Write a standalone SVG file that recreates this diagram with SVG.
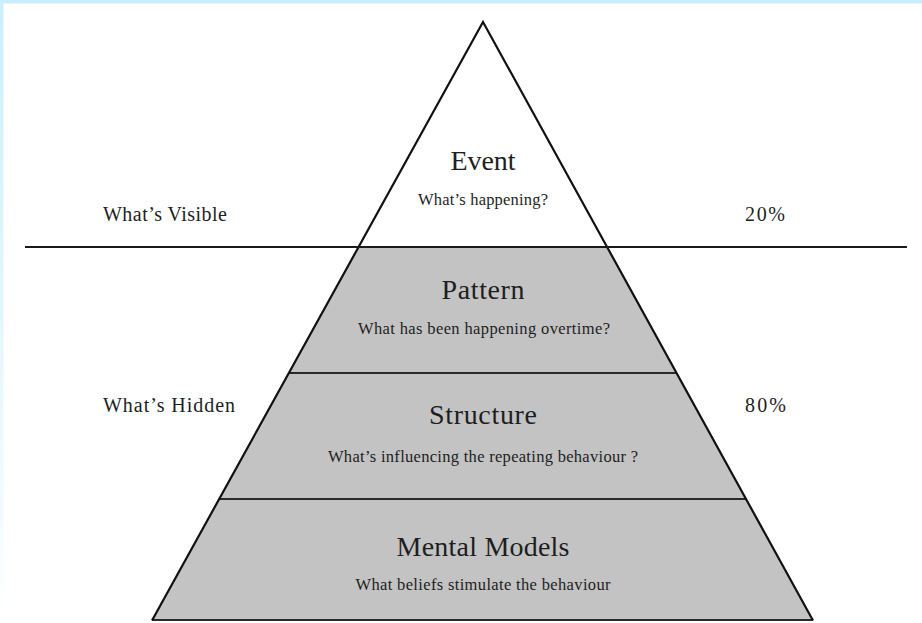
<svg xmlns="http://www.w3.org/2000/svg" width="922" height="623" viewBox="0 0 922 623">
<defs>
<linearGradient id="lb" x1="0" y1="0" x2="0" y2="1"><stop offset="0" stop-color="#cdeffb"/><stop offset="0.75" stop-color="#eefaff"/><stop offset="1" stop-color="#ffffff"/></linearGradient>
<style>
.t{font-family:"Liberation Serif","Times New Roman",serif;fill:#1e1e1e;text-anchor:middle}
.title{font-size:28px}
.sub{font-size:16.5px}
.side{font-family:"Liberation Serif","Times New Roman",serif;fill:#1e1e1e;font-size:20px}
.layer{fill:#c3c3c3;stroke:none}
.div{stroke:#2a2a2a;stroke-width:2;fill:none}
.edge{stroke:#111;stroke-width:2.2;fill:none;stroke-linejoin:miter}
</style>
</defs>
<rect width="922" height="623" fill="#ffffff"/>
<rect x="0" y="0" width="922" height="3.5" fill="#c9eefb"/>
<rect x="0" y="0" width="3.5" height="623" fill="url(#lb)"/>

<g id="layer-pattern">
<polygon class="layer" points="358.5,247 607.2,247 676.7,373 288.7,373"/>
<text class="t title" x="483" y="299" textLength="83" lengthAdjust="spacing">Pattern</text>
<text class="t sub" x="484" y="334" textLength="252" lengthAdjust="spacing">What has been happening overtime?</text>
</g>
<g id="layer-structure">
<polygon class="layer" points="288.7,373 676.7,373 746.2,499 219,499"/>
<text class="t title" x="483" y="424" textLength="108" lengthAdjust="spacing">Structure</text>
<text class="t sub" x="483" y="462" textLength="310" lengthAdjust="spacing">What’s influencing the repeating behaviour ?</text>
</g>
<g id="layer-mental-models">
<polygon class="layer" points="219,499 746.2,499 813,620 152,620"/>
<text class="t title" x="483" y="556" textLength="173" lengthAdjust="spacing">Mental Models</text>
<text class="t sub" x="483" y="590" textLength="255" lengthAdjust="spacing">What beliefs stimulate the behaviour</text>
</g>
<g id="layer-event">
<text class="t title" x="483" y="170" textLength="65" lengthAdjust="spacing">Event</text>
<text class="t sub" x="483" y="205" textLength="130" lengthAdjust="spacing">What’s happening?</text>
</g>

<g id="connectors">
<line class="div" x1="288.7" y1="373" x2="676.7" y2="373"/>
<line class="div" x1="219" y1="499" x2="746.2" y2="499"/>
<line class="div" x1="152" y1="620" x2="813" y2="620"/>
<polyline class="edge" points="152,620.5 483,22 813,620.5"/>
<line x1="25" y1="247" x2="907" y2="247" stroke="#1a1a1a" stroke-width="2.2"/>
</g>

<g id="label-visible">
<text class="side" x="103" y="221" textLength="124" lengthAdjust="spacing">What’s Visible</text>
<text class="side" x="745" y="221" textLength="40" lengthAdjust="spacing">20%</text>
</g>
<g id="label-hidden">
<text class="side" x="103" y="412" textLength="132" lengthAdjust="spacing">What’s Hidden</text>
<text class="side" x="745" y="412" textLength="41" lengthAdjust="spacing">80%</text>
</g>
</svg>
